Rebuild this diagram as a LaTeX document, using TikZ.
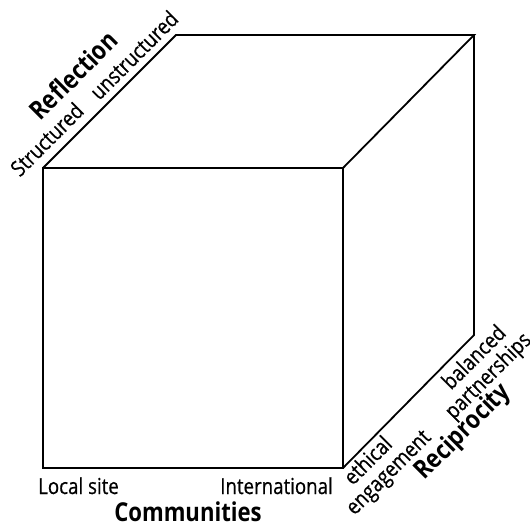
\documentclass[tikz,border=0pt]{standalone}
\usepackage{fontspec}
\setmainfont{Open Sans}[FakeStretch=0.85]
\newfontfamily\labfont{Open Sans}[FakeStretch=0.85,FakeBold=0.6]
\begin{document}
\begin{tikzpicture}[x=1pt,y=-1pt,
  edge/.style={draw=black,line width=1.8pt,line join=miter},
  lab/.style={inner sep=0pt,font=\labfont\fontsize{22}{24}\selectfont},
  axis/.style={inner sep=0pt,font=\fontsize{26}{28}\selectfont\bfseries},
  diag/.style={rotate=45,anchor=center}]
\useasboundingbox (0,0) rectangle (530,522);
\clip (0,0) rectangle (530,522);
% cube corners
\coordinate (ftl) at (43,168);
\coordinate (ftr) at (343,168);
\coordinate (fbr) at (343,468);
\coordinate (fbl) at (43,468);
\coordinate (btl) at (176,35);
\coordinate (btr) at (474,35);
\coordinate (bbr) at (474,335);
\draw[edge] (ftl) -- (ftr) -- (fbr) -- (fbl) -- cycle;
\draw[edge] (ftl) -- (btl) -- (btr) -- (ftr);
\draw[edge] (btr) -- (bbr) -- (fbr);
% bottom labels
\node[lab,anchor=base west] (local) at (38,494) {Local site};
\node[lab,anchor=base east] (intl) at (333,494) {International};
\node[axis,anchor=base] (comm) at (188,521) {Communities};
% reflection
\node[lab,diag] (struct) at (46.7,139.3) {Structured};
\node[lab,diag] (unstruct) at (133.7,55) {unstructured};
\node[axis,diag] (refl) at (73.3,75) {Reflection};
% reciprocity
\node[lab,diag] (bal) at (473.3,356.7) {balanced};
\node[lab,diag] (part) at (489,376.7) {partnerships};
\node[axis,diag] (recip) at (463.3,432.3) {Reciprocity};
\node[lab,diag] (eth) at (367.3,460) {ethical};
\node[lab,diag] (eng) at (390,474) {engagement};
\end{tikzpicture}
\end{document}
